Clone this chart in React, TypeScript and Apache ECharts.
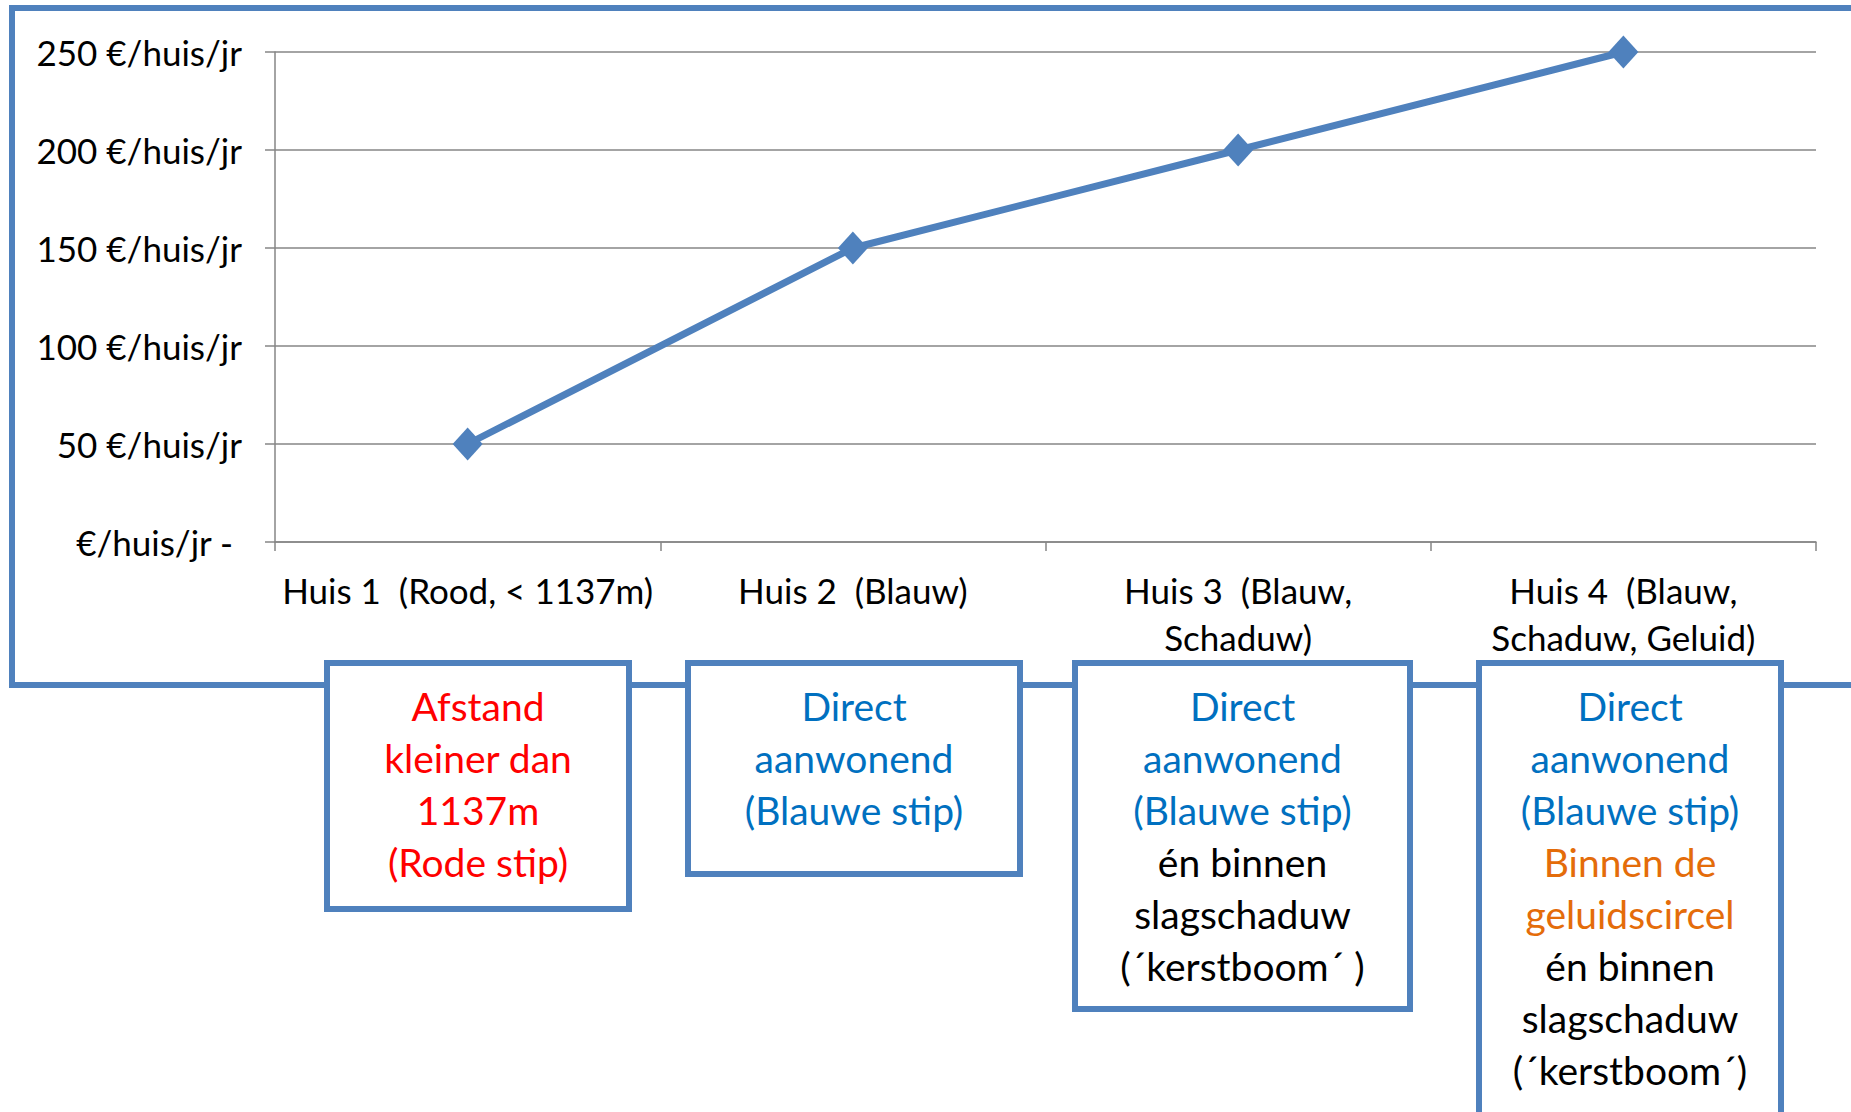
import React, { useEffect, useRef } from "react";
import * as echarts from "echarts";

const categories = [
  "Huis 1  (Rood, < 1137m)",
  "Huis 2  (Blauw)",
  "Huis 3  (Blauw,\nSchaduw)",
  "Huis 4  (Blauw,\nSchaduw, Geluid)",
];
const values = [50, 150, 200, 250];
const yMin = 0;
const yMax = 250;
const yStep = 50;
const yUnit = "€/huis/jr";

const box1Lines = [
  { t: "Afstand", c: "red" },
  { t: "kleiner dan", c: "red" },
  { t: "1137m", c: "red" },
  { t: "(Rode stip)", c: "red" },
];
const box2Lines = [
  { t: "Direct", c: "blue" },
  { t: "aanwonend", c: "blue" },
  { t: "(Blauwe stip)", c: "blue" },
];
const box3Lines = [
  { t: "Direct", c: "blue" },
  { t: "aanwonend", c: "blue" },
  { t: "(Blauwe stip)", c: "blue" },
  { t: "én binnen", c: "black" },
  { t: "slagschaduw", c: "black" },
  { t: "(´kerstboom´ )", c: "black" },
];
const box4Lines = [
  { t: "Direct", c: "blue" },
  { t: "aanwonend", c: "blue" },
  { t: "(Blauwe stip)", c: "blue" },
  { t: "Binnen de", c: "orange" },
  { t: "geluidscircel", c: "orange" },
  { t: "én binnen", c: "black" },
  { t: "slagschaduw", c: "black" },
  { t: "(´kerstboom´)", c: "black" },
];

const COLORS: Record<string, string> = {
  red: "#FF0000",
  blue: "#0070C0",
  orange: "#E46C0A",
  black: "#000000",
};
const BLUE = "#4F81BD";
const FONT = "Lato";

export default function App() {
  const ref = useRef<HTMLDivElement>(null);
  useEffect(() => {
    if (!ref.current) return;
    const chart = echarts.init(ref.current, undefined, { renderer: "svg" });

    const boxes = [
      { x: 327, y: 663, w: 302, h: 246, lines: box1Lines },
      { x: 688, y: 663, w: 332, h: 211, lines: box2Lines },
      { x: 1075, y: 663, w: 335, h: 346, lines: box3Lines },
      { x: 1479, y: 663, w: 302, h: 480, lines: box4Lines },
    ];
    const graphics: any[] = [
      {
        type: "rect",
        z: -10,
        silent: true,
        shape: { x: 12, y: 8, width: 1900, height: 677 },
        style: { fill: "#ffffff", stroke: BLUE, lineWidth: 6 },
      },
    ];
    boxes.forEach((b) => {
      graphics.push({
        type: "rect",
        z: 10,
        silent: true,
        shape: { x: b.x, y: b.y, width: b.w, height: b.h },
        style: { fill: "#ffffff", stroke: BLUE, lineWidth: 6 },
      });
      b.lines.forEach((ln, i) => {
        graphics.push({
          type: "text",
          z: 11,
          silent: true,
          x: b.x + b.w / 2,
          y: 706 + i * 52,
          style: {
            text: ln.t,
            fill: COLORS[ln.c],
            font: `39px ${FONT}`,
            align: "center",
            verticalAlign: "middle",
          },
        });
      });
    });

    chart.setOption({
      animation: false,
      backgroundColor: "#ffffff",
      grid: { left: 275, top: 52, right: 35, bottom: 570, containLabel: false },
      xAxis: {
        type: "category",
        data: categories,
        boundaryGap: true,
        axisLine: { show: true, lineStyle: { color: "#868686", width: 1.5 } },
        axisTick: { show: true, length: 9, alignWithLabel: false, lineStyle: { color: "#868686", width: 1.5 } },
        axisLabel: {
          color: "#000000",
          fontFamily: FONT,
          fontSize: 35,
          lineHeight: 47,
          margin: 24,
          interval: 0,
          align: "center",
        },
        splitLine: { show: false },
      },
      yAxis: {
        type: "value",
        min: yMin,
        max: yMax,
        interval: yStep,
        axisLine: { show: true, lineStyle: { color: "#868686", width: 1.5 } },
        axisTick: { show: true, length: 10, lineStyle: { color: "#868686", width: 1.5 } },
        axisLabel: {
          color: "#000000",
          fontFamily: FONT,
          fontSize: 35,
          margin: 33,
          formatter: (v: number) => (v === 0 ? `${yUnit} - ` : `${v} ${yUnit}`),
        },
        splitLine: { show: true, lineStyle: { color: "#868686", width: 1.5 } },
      },
      series: [
        {
          type: "line",
          data: values,
          symbol: "diamond",
          symbolSize: [30, 33],
          lineStyle: { color: BLUE, width: 7 },
          itemStyle: { color: BLUE },
          z: 5,
        },
      ],
      graphic: graphics,
    });

    return () => chart.dispose();
  }, []);

  return (
    <div
      ref={ref}
      style={{ position: "absolute", left: 0, top: 0, width: 1851, height: 1112 }}
    />
  );
}
